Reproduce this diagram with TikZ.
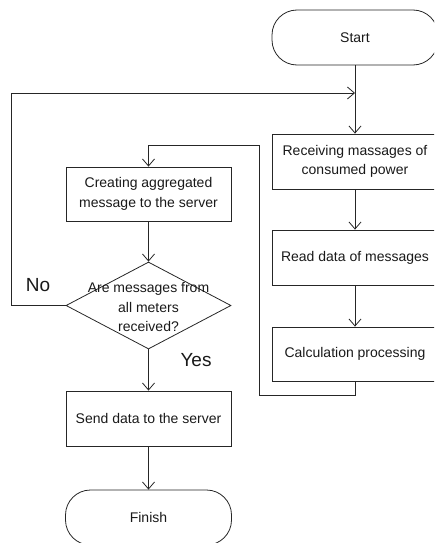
\documentclass[tikz,border=0pt]{standalone}
\usepackage{fontspec}
\setmainfont{Liberation Sans}
\usetikzlibrary{arrows.meta,shapes.geometric}
\begin{document}
\begin{tikzpicture}[x=1pt,y=-1pt,
  line width=0.8pt, draw=black!85, text=black!90,
  font=\fontsize{14}{19.5}\selectfont,
  arr/.style={-{Straight Barb[length=7pt,width=12pt]}},
  procbox/.style={draw, rectangle, minimum width=166pt, minimum height=55pt, inner sep=0pt, align=center},
  term/.style={draw, rectangle, rounded corners=25pt, minimum width=166pt, minimum height=55pt, inner sep=0pt},
  decision/.style={draw, diamond, minimum width=165pt, minimum height=87pt, inner sep=0pt, aspect=1.9, align=center},
  biglabel/.style={font=\fontsize{19}{22}\selectfont}]
\useasboundingbox (0,0) rectangle (434,543);
\clip (0,0) rectangle (434,543);
% right column
\node[term] (start) at (355,37.5) {Start};
\node[procbox] (recv) at (355,161.5) {Receiving massages of\\consumed power};
\node[procbox] (read) at (355,257.5) {Read data of messages};
\node[procbox, minimum height=54pt] (calc) at (355,354) {Calculation processing};
% left column
\node[procbox, minimum width=165pt, minimum height=54pt] (create) at (148.5,194) {Creating aggregated\\message to the server};
\node[decision] (dec) at (148.5,305.5) {};
\node (dectext) at (148.5,307) [align=center] {Are messages from\\all meters\\received?};
\node[procbox, minimum width=165pt] (send) at (148.5,418.5) {Send data to the server};
\node[term, minimum width=166pt] (finish) at (148.5,517.5) {Finish};
% labels
\node[biglabel] (no) at (38,285) {No};
\node[biglabel] (yes) at (196,360) {Yes};
% coordinates
\coordinate (j) at (355,93);
\coordinate (la) at (11,305.5);
\coordinate (lb) at (11,93);
\coordinate (ca) at (355,395);
\coordinate (cb) at (259,395);
\coordinate (cc) at (259,145);
\coordinate (cd) at (148.5,145);
% connectors
\draw[arr] (start.south) -- (recv.north);
\draw[arr] (dec.west) -- (la) -- (lb) -- (j);
\draw[arr] (recv.south) -- (read.north);
\draw[arr] (read.south) -- (calc.north);
\draw[arr] (calc.south) -- (ca) -- (cb) -- (cc) -- (cd) -- (create.north);
\draw[arr] (create.south) -- (dec.north);
\draw[arr] (dec.south) -- (send.north);
\draw[arr] (send.south) -- (finish.north);
\end{tikzpicture}
\end{document}
